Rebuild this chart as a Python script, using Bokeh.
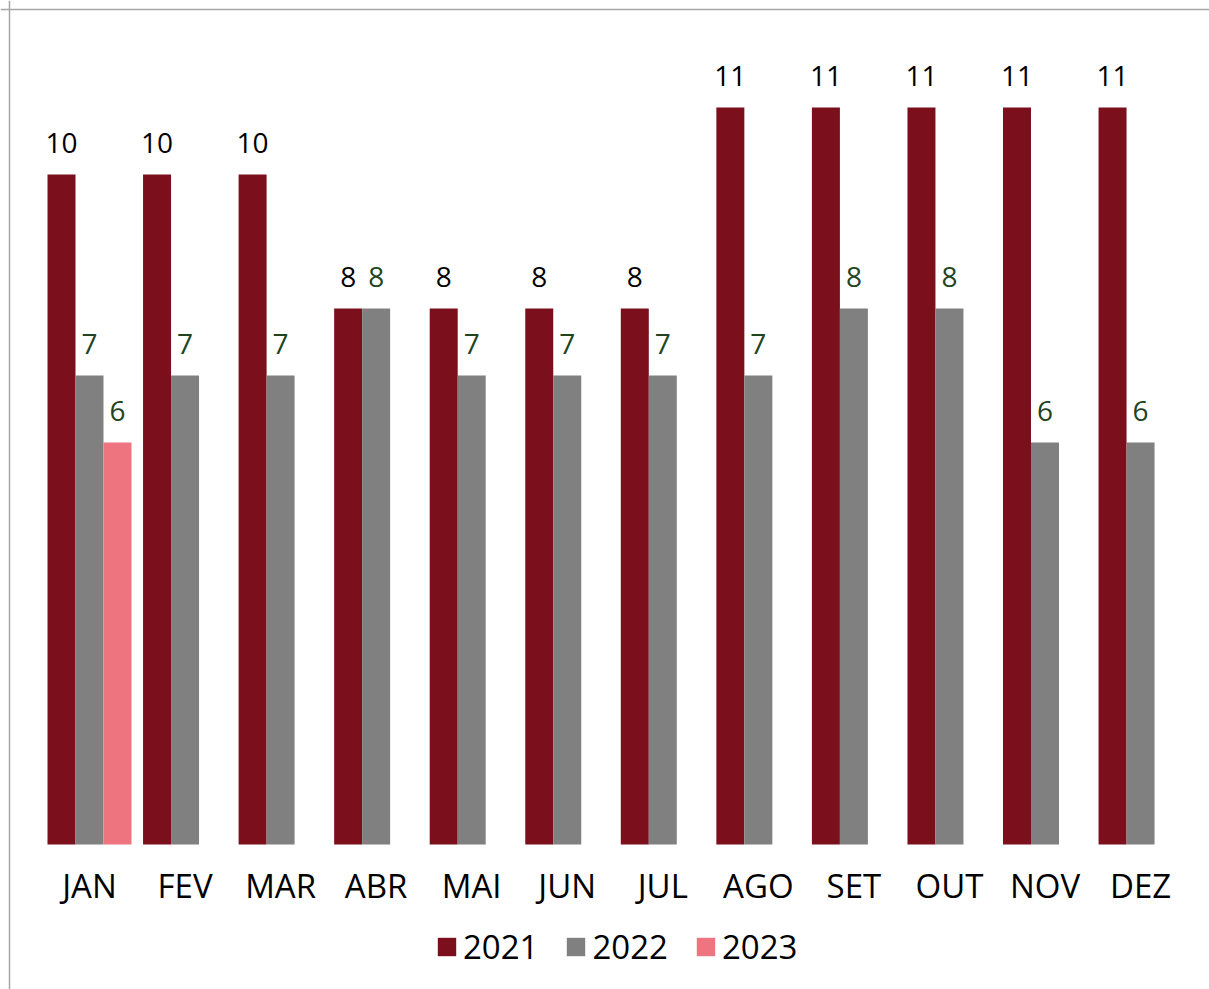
from bokeh.plotting import figure
from bokeh.models import ColumnDataSource, Range1d, Span, Legend, LegendItem
from bokeh.transform import dodge
from bokeh.core.properties import value
from bokeh.embed import file_html
from bokeh.resources import INLINE

months = ["JAN", "FEV", "MAR", "ABR", "MAI", "JUN", "JUL", "AGO", "SET", "OUT", "NOV", "DEZ"]
v2021 = [10, 10, 10, 8, 8, 8, 8, 11, 11, 11, 11, 11]
v2022 = [7, 7, 7, 8, 7, 7, 7, 7, 8, 8, 6, 6]
months2023 = ["JAN"]
v2023 = [6]

c2021 = "#7b0f1c"
c2022 = "#808080"
c2023 = "#ee7580"
lab_dark = "#000000"
lab_green = "#21441f"
FONT = "Open Sans"

idx = {m: i for i, m in enumerate(months)}
src = ColumnDataSource(dict(x=[idx[m] for m in months], m=months,
                            v2021=v2021, v2022=v2022,
                            t2021=[str(v) for v in v2021],
                            t2022=[str(v) for v in v2022],
                            zero=[0] * len(months)))
src23 = ColumnDataSource(dict(x=[idx[m] for m in months2023], v2023=v2023,
                              t2023=[str(v) for v in v2023]))

W, H = 1209, 989
X0, X1 = -0.9314, 11.7216
Y0, Y1 = -2.164, 12.597
p = figure(width=W, height=H, output_backend="svg", toolbar_location=None,
           x_range=Range1d(X0, X1), y_range=Range1d(Y0, Y1),
           min_border=0, min_border_left=0, min_border_right=0,
           min_border_top=0, min_border_bottom=0)
p.xaxis.visible = False
p.yaxis.visible = False
p.grid.visible = False
p.outline_line_color = None
p.background_fill_color = "white"
p.border_fill_color = "white"

bw = 0.293
r1 = p.vbar(x=dodge("x", -bw, range=p.x_range), top="v2021", width=bw, source=src,
            fill_color=c2021, line_color=None)
r2 = p.vbar(x=dodge("x", 0, range=p.x_range), top="v2022", width=bw, source=src,
            fill_color=c2022, line_color=None)
r3 = p.vbar(x=dodge("x", bw, range=p.x_range), top="v2023", width=bw, source=src23,
            fill_color=c2023, line_color=None)

LOFF = -32
p.text(x=dodge("x", -bw, range=p.x_range), y="v2021", text="t2021", source=src,
       text_font=value(FONT), text_font_size="28px", text_color=lab_dark,
       text_align="center", text_baseline="alphabetic", y_offset=LOFF)
p.text(x=dodge("x", 0, range=p.x_range), y="v2022", text="t2022", source=src,
       text_font=value(FONT), text_font_size="28px", text_color=lab_green,
       text_align="center", text_baseline="alphabetic", y_offset=LOFF)
p.text(x=dodge("x", bw, range=p.x_range), y="v2023", text="t2023", source=src23,
       text_font=value(FONT), text_font_size="28px", text_color=lab_green,
       text_align="center", text_baseline="alphabetic", y_offset=LOFF)

p.text(x="x", y="zero", text="m", source=src,
       text_font=value(FONT), text_font_size="33px", text_color="#000000",
       text_align="center", text_baseline="alphabetic", y_offset=41)

p.add_layout(Span(location=Y1 - 9.0 / 67, dimension="width",
                  line_color="#a6a6a6", line_width=1.5))
p.add_layout(Span(location=X0 + 9.0 / 95.55, dimension="height",
                  line_color="#a6a6a6", line_width=1.5))

legend = Legend(items=[LegendItem(label="2021", renderers=[r1]),
                       LegendItem(label="2022", renderers=[r2]),
                       LegendItem(label="2023", renderers=[r3])],
                orientation="horizontal", location=(435, 20),
                glyph_width=23, glyph_height=23, label_standoff=5, spacing=26,
                padding=0, margin=0, border_line_color=None,
                background_fill_alpha=0,
                label_text_font=FONT, label_text_font_size="33px",
                label_text_color="#000000")
p.add_layout(legend, "center")

open("out.html", "w").write(file_html(p, INLINE))
